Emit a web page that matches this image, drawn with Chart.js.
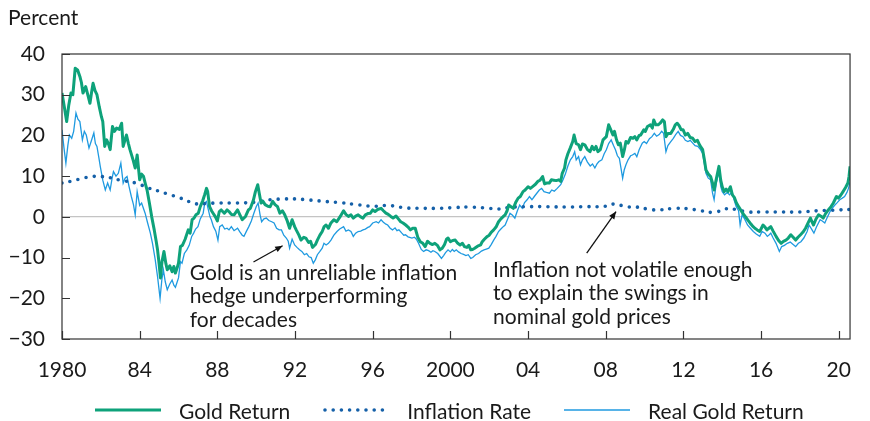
<!DOCTYPE html>
<html>
<head>
<meta charset="utf-8">
<script src="https://cdn.jsdelivr.net/npm/chart.js@4"></script>
<style>
  html, body { margin: 0; padding: 0; background: #fff; }
  #wrap { width: 870px; height: 421px; position: relative; }
  #legend {
    position: absolute; left: 95px; top: 398px; height: 24px;
    display: flex; align-items: center;
    font: 21px Lato, 'Noto Sans', sans-serif; color: #1a1a1a;
  }
  #legend .item { display: flex; align-items: center; margin-right: 33px; white-space: nowrap; }
  #legend svg { display: block; margin-right: 18px; }
</style>
</head>
<body>
<div id="wrap"><canvas id="c"></canvas><div id="legend"></div></div>
<script>
// ---- data ----
const goldDates = [1980.0,1980.12,1980.24,1980.35,1980.46,1980.56,1980.68,1980.8,1980.92,1981.0,1981.08,1981.22,1981.35,1981.44,1981.52,1981.6,1981.7,1981.8,1981.92,1982.03,1982.1,1982.2,1982.3,1982.4,1982.48,1982.6,1982.7,1982.81,1982.95,1983.07,1983.15,1983.25,1983.32,1983.42,1983.5,1983.66,1983.77,1983.87,1984.0,1984.1,1984.2,1984.3,1984.38,1984.5,1984.62,1984.75,1984.85,1984.92,1985.0,1985.07,1985.15,1985.25,1985.35,1985.42,1985.55,1985.67,1985.76,1985.84,1985.93,1986.0,1986.1,1986.2,1986.34,1986.5,1986.6,1986.7,1986.8,1986.9,1987.02,1987.12,1987.25,1987.35,1987.44,1987.5,1987.6,1987.7,1987.78,1987.9,1988.0,1988.1,1988.2,1988.36,1988.5,1988.6,1988.72,1988.86,1989.04,1989.16,1989.28,1989.45,1989.6,1989.7,1989.85,1989.96,1990.08,1990.15,1990.25,1990.35,1990.46,1990.6,1990.72,1990.85,1990.97,1991.1,1991.22,1991.35,1991.47,1991.6,1991.72,1991.85,1991.98,1992.06,1992.2,1992.31,1992.45,1992.57,1992.7,1992.8,1992.9,1993.05,1993.15,1993.28,1993.4,1993.5,1993.6,1993.72,1993.85,1994.0,1994.15,1994.33,1994.5,1994.62,1994.75,1994.88,1995.0,1995.12,1995.25,1995.38,1995.5,1995.62,1995.75,1995.88,1996.0,1996.12,1996.25,1996.43,1996.55,1996.68,1996.8,1996.93,1997.05,1997.2,1997.32,1997.44,1997.56,1997.7,1997.82,1997.94,1998.06,1998.19,1998.32,1998.45,1998.58,1998.7,1998.82,1998.95,1999.08,1999.2,1999.33,1999.46,1999.58,1999.7,1999.8,1999.88,2000.0,2000.12,2000.25,2000.38,2000.5,2000.62,2000.72,2000.85,2000.95,2001.05,2001.14,2001.25,2001.4,2001.56,2001.64,2001.75,2001.9,2002.0,2002.1,2002.23,2002.35,2002.48,2002.6,2002.73,2002.82,2002.92,2003.0,2003.12,2003.24,2003.36,2003.49,2003.6,2003.74,2003.85,2004.0,2004.12,2004.25,2004.38,2004.5,2004.62,2004.75,2004.85,2004.95,2005.09,2005.2,2005.32,2005.45,2005.58,2005.68,2005.76,2005.88,2005.95,2006.05,2006.18,2006.3,2006.37,2006.48,2006.6,2006.7,2006.8,2006.92,2007.05,2007.19,2007.3,2007.4,2007.5,2007.6,2007.72,2007.86,2008.03,2008.15,2008.25,2008.37,2008.45,2008.55,2008.65,2008.75,2008.87,2008.96,2009.04,2009.15,2009.28,2009.4,2009.5,2009.6,2009.72,2009.8,2009.96,2010.04,2010.15,2010.3,2010.4,2010.47,2010.58,2010.7,2010.8,2010.93,2011.02,2011.1,2011.2,2011.35,2011.48,2011.58,2011.68,2011.78,2011.88,2011.98,2012.1,2012.22,2012.35,2012.48,2012.6,2012.72,2012.85,2012.99,2013.08,2013.16,2013.28,2013.4,2013.5,2013.58,2013.7,2013.83,2013.92,2014.0,2014.1,2014.2,2014.3,2014.42,2014.52,2014.62,2014.72,2014.84,2015.0,2015.1,2015.2,2015.32,2015.43,2015.55,2015.68,2015.8,2015.93,2016.1,2016.2,2016.3,2016.4,2016.5,2016.62,2016.77,2016.9,2017.03,2017.15,2017.28,2017.4,2017.53,2017.65,2017.78,2017.9,2018.03,2018.15,2018.29,2018.42,2018.54,2018.62,2018.7,2018.82,2018.96,2019.1,2019.2,2019.32,2019.46,2019.6,2019.72,2019.8,2019.88,2019.98,2020.1,2020.22,2020.35,2020.47,2020.53,2020.58];
const goldValues = [30.4,27.0,23.4,27.5,30.4,30.0,36.5,36.1,34.5,33.0,30.4,32.0,29.6,27.9,30.5,32.8,31.0,30.0,27.0,24.6,23.4,17.3,18.9,17.8,16.5,22.2,21.0,21.8,21.5,23.0,17.3,19.0,20.1,18.0,16.5,14.0,12.0,15.2,9.1,10.5,9.9,8.0,6.6,3.4,0.0,-3.2,-6.0,-8.1,-11.5,-15.0,-11.0,-8.5,-11.5,-13.0,-12.0,-13.5,-12.2,-13.8,-12.5,-11.4,-7.3,-7.0,-5.5,-3.2,-4.0,-0.7,-0.3,0.5,0.9,2.5,4.0,5.5,7.0,6.2,2.5,1.5,0.9,0.0,-1.0,1.3,1.7,0.9,1.7,1.3,0.6,0.5,1.7,0.5,-0.7,0.1,1.7,2.1,4.0,6.2,7.9,6.0,3.4,3.8,3.0,2.6,2.5,3.8,3.0,2.5,0.9,1.5,0.5,-1.0,-2.8,-0.7,-2.4,-3.2,-4.5,-5.7,-5.0,-5.3,-6.3,-6.0,-7.5,-6.8,-5.7,-4.5,-3.6,-2.4,-2.0,-2.8,-1.5,-0.7,-1.2,0.1,1.5,0.6,0.1,0.5,-0.3,0.2,0.5,0.0,-0.3,0.5,0.8,0.9,1.7,1.3,1.8,2.1,1.5,0.9,0.6,0.1,-0.3,0.2,-0.5,-1.2,-1.5,-2.0,-2.5,-3.2,-2.8,-2.8,-5.0,-6.1,-6.5,-7.3,-6.0,-6.5,-6.8,-6.5,-7.0,-8.1,-7.7,-6.8,-5.5,-5.2,-6.1,-5.8,-5.7,-6.5,-6.9,-6.5,-7.3,-7.5,-7.0,-8.1,-8.0,-7.7,-7.2,-6.9,-6.1,-5.5,-4.8,-4.5,-3.8,-3.2,-2.5,-1.2,-0.5,0.1,0.5,1.5,2.9,2.5,2.1,3.5,4.6,5.0,6.2,6.6,7.4,7.0,7.5,8.0,8.7,9.0,9.9,8.1,8.3,8.3,9.1,9.0,8.9,9.1,8.7,10.7,12.0,14.0,15.5,17.0,18.5,20.1,18.0,17.7,16.5,17.9,17.7,16.6,16.0,17.3,16.5,17.3,16.0,16.5,18.9,19.7,22.6,21.5,20.1,21.0,19.0,17.7,18.1,14.8,16.5,18.5,18.1,19.5,19.3,19.7,18.9,20.0,20.1,21.4,21.0,22.2,22.6,21.8,23.8,22.6,22.6,23.0,23.8,23.4,19.7,20.5,20.5,21.5,22.6,23.0,22.4,21.4,21.4,20.1,20.5,19.5,19.3,18.5,18.8,17.5,16.5,14.0,11.5,10.5,9.9,8.3,6.6,9.5,12.4,9.0,7.4,6.2,6.8,6.2,7.4,5.4,4.8,3.5,2.5,1.3,0.6,0.0,-0.8,-1.5,-2.2,-2.8,-3.2,-3.6,-2.0,-2.5,-3.2,-2.8,-2.4,-3.5,-4.8,-5.8,-6.5,-6.0,-5.7,-5.2,-4.4,-5.0,-5.7,-5.0,-4.4,-3.8,-2.8,-1.5,-0.3,-1.2,-2.0,-0.6,0.5,0.1,-0.3,0.8,1.7,2.5,3.4,4.2,5.0,4.6,5.3,6.2,7.2,8.3,10.0,12.4];

const realDates = [1980.0,1980.1,1980.2,1980.3,1980.38,1980.5,1980.6,1980.72,1980.82,1980.92,1981.05,1981.15,1981.25,1981.39,1981.5,1981.64,1981.72,1981.8,1981.9,1981.97,1982.1,1982.23,1982.35,1982.48,1982.58,1982.65,1982.78,1982.9,1983.03,1983.15,1983.25,1983.35,1983.45,1983.57,1983.68,1983.77,1983.87,1984.0,1984.1,1984.2,1984.28,1984.41,1984.55,1984.66,1984.8,1984.92,1985.05,1985.14,1985.22,1985.32,1985.42,1985.55,1985.67,1985.76,1985.84,1985.93,1986.0,1986.1,1986.18,1986.3,1986.43,1986.55,1986.68,1986.78,1986.88,1987.0,1987.12,1987.27,1987.35,1987.44,1987.52,1987.62,1987.69,1987.8,1987.92,1988.03,1988.12,1988.25,1988.38,1988.5,1988.6,1988.72,1988.86,1989.04,1989.15,1989.28,1989.37,1989.5,1989.62,1989.75,1989.88,1990.0,1990.1,1990.2,1990.28,1990.4,1990.52,1990.65,1990.8,1990.92,1991.05,1991.18,1991.3,1991.42,1991.55,1991.65,1991.72,1991.85,1991.98,1992.1,1992.23,1992.35,1992.48,1992.6,1992.72,1992.83,1992.94,1993.05,1993.15,1993.28,1993.4,1993.49,1993.6,1993.72,1993.85,1994.0,1994.16,1994.3,1994.5,1994.62,1994.75,1994.88,1995.0,1995.12,1995.25,1995.38,1995.5,1995.62,1995.75,1995.84,1996.0,1996.18,1996.3,1996.43,1996.55,1996.68,1996.77,1996.9,1997.02,1997.15,1997.25,1997.35,1997.5,1997.6,1997.69,1997.82,1998.02,1998.15,1998.25,1998.36,1998.5,1998.62,1998.75,1998.88,1999.0,1999.1,1999.2,1999.35,1999.54,1999.65,1999.75,1999.88,2000.0,2000.1,2000.2,2000.3,2000.42,2000.55,2000.68,2000.8,2000.92,2001.05,2001.15,2001.3,2001.45,2001.6,2001.73,2001.85,2001.98,2002.1,2002.23,2002.35,2002.48,2002.6,2002.72,2002.82,2002.95,2003.07,2003.2,2003.32,2003.45,2003.57,2003.7,2003.82,2003.95,2004.07,2004.2,2004.32,2004.45,2004.58,2004.7,2004.82,2004.95,2005.1,2005.22,2005.35,2005.5,2005.68,2005.8,2005.92,2006.05,2006.18,2006.3,2006.4,2006.48,2006.6,2006.7,2006.8,2006.92,2007.05,2007.2,2007.32,2007.44,2007.55,2007.65,2007.8,2007.92,2008.03,2008.15,2008.28,2008.4,2008.5,2008.6,2008.7,2008.87,2008.95,2009.04,2009.15,2009.28,2009.37,2009.5,2009.6,2009.72,2009.88,2009.98,2010.1,2010.25,2010.38,2010.5,2010.62,2010.75,2010.88,2010.98,2011.1,2011.2,2011.35,2011.48,2011.6,2011.73,2011.85,2011.98,2012.1,2012.23,2012.35,2012.48,2012.6,2012.74,2012.88,2012.99,2013.08,2013.16,2013.28,2013.4,2013.5,2013.58,2013.7,2013.83,2013.92,2014.0,2014.12,2014.25,2014.38,2014.5,2014.62,2014.72,2014.84,2014.92,2015.02,2015.15,2015.3,2015.45,2015.6,2015.75,2015.93,2016.05,2016.2,2016.32,2016.42,2016.5,2016.62,2016.77,2016.94,2017.06,2017.2,2017.35,2017.5,2017.65,2017.78,2017.92,2018.05,2018.2,2018.37,2018.47,2018.6,2018.72,2018.85,2019.04,2019.15,2019.28,2019.42,2019.55,2019.68,2019.8,2019.92,2020.05,2020.18,2020.3,2020.42,2020.5,2020.58];
const realValues = [21.4,17.0,13.2,17.5,20.1,19.3,21.0,25.5,24.0,23.4,18.9,21.0,20.1,16.9,18.5,20.6,18.0,17.3,14.5,12.4,9.0,6.6,8.3,6.6,9.5,11.1,10.0,10.7,13.2,8.3,9.5,9.9,7.5,5.0,3.0,0.5,6.2,2.8,3.4,2.0,0.9,-1.5,-4.0,-6.5,-10.5,-14.7,-20.0,-15.5,-13.0,-16.0,-17.9,-16.5,-15.5,-16.8,-17.3,-16.0,-15.0,-11.0,-11.4,-9.0,-8.1,-7.0,-4.8,-4.0,-3.0,-2.4,-0.5,0.9,3.4,3.8,2.1,0.0,-0.7,-2.4,-3.5,-5.7,-2.4,-2.0,-3.0,-2.8,-3.2,-2.4,-3.4,-2.8,-3.6,-4.5,-4.8,-3.5,-2.4,-1.0,0.9,2.5,3.4,0.5,-1.2,-0.5,-0.3,-0.9,-1.2,-1.5,-2.8,-3.2,-3.2,-4.5,-5.2,-6.0,-7.7,-5.5,-6.9,-7.5,-8.1,-8.5,-9.3,-9.0,-9.8,-10.0,-11.4,-10.5,-9.3,-8.5,-7.7,-6.5,-6.9,-6.5,-5.7,-4.5,-3.6,-3.0,-2.4,-3.5,-3.2,-3.6,-4.8,-4.0,-3.6,-3.5,-3.2,-3.0,-2.6,-2.4,-1.5,-1.2,-1.5,-0.7,-1.3,-1.8,-2.0,-2.8,-3.2,-2.7,-3.4,-3.2,-4.0,-4.5,-4.4,-4.9,-5.2,-5.0,-5.5,-6.5,-8.0,-8.5,-8.1,-8.3,-8.7,-8.3,-8.5,-9.0,-10.2,-9.5,-8.8,-8.1,-8.6,-8.0,-8.5,-8.1,-8.6,-9.0,-9.2,-9.5,-9.3,-10.2,-10.0,-9.3,-9.0,-8.4,-8.1,-7.9,-7.7,-6.8,-5.7,-4.8,-3.6,-3.0,-2.4,-2.0,-0.5,0.9,0.4,-0.3,1.5,2.9,2.1,3.5,4.2,5.0,4.2,5.0,5.8,6.6,7.0,6.2,6.0,5.8,6.6,6.3,7.0,7.9,9.1,10.5,12.5,14.0,14.8,16.0,14.0,14.8,12.8,14.0,14.8,13.5,12.5,13.0,12.0,13.0,13.6,14.0,15.5,16.5,18.0,18.9,17.5,16.5,15.0,14.4,9.5,11.5,12.8,14.0,15.0,15.2,15.6,14.8,16.5,18.1,18.5,18.0,19.2,19.7,20.5,19.8,20.2,21.0,20.5,16.0,17.5,18.5,19.3,20.2,21.0,20.0,19.7,18.8,18.5,18.8,18.1,17.5,17.3,16.5,15.6,13.0,10.7,9.5,9.1,5.8,4.2,8.5,11.1,7.5,6.2,5.4,6.0,5.4,6.2,4.0,2.5,1.5,-2.0,0.5,-0.5,-2.0,-2.8,-3.6,-4.2,-4.8,-3.6,-4.0,-4.8,-4.4,-4.0,-5.2,-6.5,-8.5,-7.3,-7.0,-6.5,-6.2,-6.8,-7.3,-6.5,-6.1,-5.2,-3.6,-2.0,-3.0,-4.0,-2.5,-0.7,-1.0,-1.5,0.0,1.3,2.2,2.9,3.5,4.2,4.6,5.0,6.0,7.0,8.5];

const inflDates = [1980.0,1980.5,1981.0,1981.55,1982.0,1982.5,1983.0,1983.8,1984.5,1985.0,1985.5,1986.0,1986.5,1986.9,1987.5,1988.0,1989.0,1989.96,1990.7,1991.5,1992.0,1992.6,1993.5,1994.3,1995.0,1996.0,1996.8,1997.7,1998.5,1999.5,2000.3,2001.0,2002.0,2002.4,2003.2,2004.0,2005.0,2006.0,2007.0,2008.0,2008.5,2009.0,2009.6,2010.3,2010.8,2011.5,2012.2,2012.8,2013.6,2014.2,2014.8,2015.3,2016.0,2017.0,2018.0,2018.9,2019.5,2020.0,2020.58];
const inflValues = [8.3,8.8,9.4,9.9,9.9,9.6,9.0,8.3,7.0,6.3,5.5,4.8,3.8,3.2,3.3,3.4,3.4,3.6,4.2,4.4,4.4,4.2,3.8,3.5,3.1,2.6,2.8,2.2,2.1,2.1,2.3,2.4,2.1,1.9,2.4,2.5,2.5,2.4,2.5,2.6,3.2,2.5,2.4,1.8,1.7,2.1,2.0,1.6,1.1,2.0,1.7,1.2,1.2,1.2,1.2,1.5,1.6,1.7,1.8];

const xTickYears = [1980,1984,1988,1992,1996,2000,2004,2008,2012,2016,2020];
const xTickLabels = ['1980','84','88','92','96','2000','04','08','12','16','20'];

const seriesNames = ['Gold Return', 'Inflation Rate', 'Real Gold Return'];

const noteOne = ['Gold is an unreliable inflation', 'hedge underperforming', 'for decades'];
const noteTwo = ['Inflation not volatile enough', 'to explain the swings in', 'nominal gold prices'];

const FONT = "Lato, 'Noto Sans', sans-serif";
const INK = '#1a1a1a';
const GREEN = '#0ea27a';
const NAVY = '#1560a8';
const SKY = '#1f9ae0';

const toPoints = (xs, ys) => xs.map((x, i) => ({ x, y: ys[i] }));

// frame, inward tick marks, the "Percent" label and the two notes
const decorations = {
  id: 'decorations',
  afterDatasetsDraw(chart) {
    const { ctx, chartArea: a, scales: { x, y } } = chart;
    ctx.save();
    ctx.strokeStyle = '#333';
    ctx.lineWidth = 1.2;
    ctx.strokeRect(a.left, a.top, a.right - a.left, a.bottom - a.top);
    ctx.beginPath();
    y.ticks.forEach(t => {
      const py = Math.round(y.getPixelForValue(t.value)) + 0.5;
      ctx.moveTo(a.left, py); ctx.lineTo(a.left + 8, py);
    });
    xTickYears.forEach(v => {
      const px = Math.round(x.getPixelForValue(v)) + 0.5;
      ctx.moveTo(px, a.bottom); ctx.lineTo(px, a.bottom - 8);
    });
    ctx.stroke();

    ctx.fillStyle = INK;
    ctx.font = '21px ' + FONT;
    ctx.textBaseline = 'alphabetic';
    ctx.textAlign = 'left';
    ctx.fillText('Percent', 8, 25);

    ctx.textBaseline = 'middle';
    const drawNote = (lines, xv, yv) => {
      const px = x.getPixelForValue(xv), py = y.getPixelForValue(yv);
      lines.forEach((s, i) => ctx.fillText(s, px, py + i * 23.5));
    };
    drawNote(noteOne, 1986.58, -13.8);
    drawNote(noteTwo, 2002.2, -13.0);

    const arrow = (x0, y0, x1, y1) => {
      const ax = x.getPixelForValue(x0), ay = y.getPixelForValue(y0);
      const bx = x.getPixelForValue(x1), by = y.getPixelForValue(y1);
      const ang = Math.atan2(by - ay, bx - ax);
      ctx.strokeStyle = '#111';
      ctx.lineWidth = 1.3;
      ctx.beginPath(); ctx.moveTo(ax, ay); ctx.lineTo(bx, by); ctx.stroke();
      ctx.beginPath();
      ctx.moveTo(bx, by);
      ctx.lineTo(bx - 8 * Math.cos(ang - 0.4), by - 8 * Math.sin(ang - 0.4));
      ctx.lineTo(bx - 8 * Math.cos(ang + 0.4), by - 8 * Math.sin(ang + 0.4));
      ctx.closePath();
      ctx.fillStyle = '#111';
      ctx.fill();
    };
    arrow(1989.86, -11.1, 1991.36, -7.1);
    arrow(2007.02, -8.9, 2008.53, 1.3);
    ctx.restore();
  }
};

// legend built from the dataset styles (the built-in one can't space the text from the sample)
const legendSamples = [
  { color: GREEN, width: 3, dash: '', cap: 'butt' },
  { color: NAVY, width: 3.6, dash: '0 8.2', cap: 'round' },
  { color: SKY, width: 1.3, dash: '', cap: 'butt' }
];
document.getElementById('legend').innerHTML = seriesNames.map((name, i) => {
  const s = legendSamples[i];
  return `<div class="item"><svg width="66" height="10"><line x1="${s.cap === 'round' ? 2 : 0}" y1="5" x2="66" y2="5"
    stroke="${s.color}" stroke-width="${s.width}" stroke-linecap="${s.cap}"
    ${s.dash ? `stroke-dasharray="${s.dash}"` : ''}/></svg><span>${name}</span></div>`;
}).join('');

new Chart(document.getElementById('c'), {
  type: 'line',
  data: {
    datasets: [
      {
        label: seriesNames[0],
        data: toPoints(goldDates, goldValues),
        borderColor: GREEN,
        borderWidth: 3,
        pointRadius: 0,
        tension: 0,
        borderJoinStyle: 'round'
      },
      {
        label: seriesNames[1],
        data: toPoints(inflDates, inflValues),
        borderColor: NAVY,
        borderWidth: 3.6,
        borderDash: [0, 8.2],
        borderCapStyle: 'round',
        pointRadius: 0,
        tension: 0.4
      },
      {
        label: seriesNames[2],
        data: toPoints(realDates, realValues),
        borderColor: SKY,
        borderWidth: 1.3,
        pointRadius: 0,
        tension: 0
      }
    ]
  },
  options: {
    responsive: true,
    maintainAspectRatio: false,
    animation: false,
    layout: { padding: { top: 54, right: 3, left: 0, bottom: 37 } },
    plugins: {
      tooltip: { enabled: false },
      legend: { display: false }
    },
    scales: {
      x: {
        type: 'linear',
        min: 1980,
        max: 2020.58,
        afterFit: s => { s.height = 45; },
        afterBuildTicks: s => { s.ticks = xTickYears.map(v => ({ value: v })); },
        grid: { display: false, drawTicks: false },
        border: { display: false },
        ticks: {
          padding: 19,
          color: INK,
          maxRotation: 0,
          autoSkip: false,
          font: { family: FONT, size: 21 },
          callback: v => xTickLabels[xTickYears.indexOf(v)]
        }
      },
      y: {
        min: -30,
        max: 40,
        afterFit: s => { s.width = 62; },
        grid: {
          drawTicks: false,
          color: c => (c.tick && c.tick.value === 0 ? '#c4c4c4' : 'rgba(0,0,0,0)'),
          lineWidth: 1.2
        },
        border: { display: false },
        ticks: {
          stepSize: 10,
          padding: 17,
          color: INK,
          font: { family: FONT, size: 21 },
          callback: v => String(v).replace('-', '\u2212')
        }
      }
    }
  },
  plugins: [decorations]
});
</script>
</body>
</html>
